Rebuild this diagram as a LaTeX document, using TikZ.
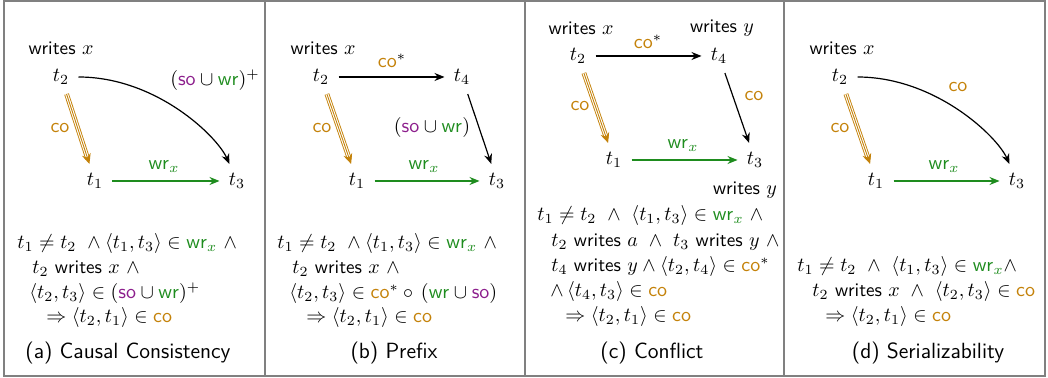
\documentclass[tikz,border=0pt]{standalone}
\usepackage{amsmath,amssymb}
\usetikzlibrary{arrows.meta}
\definecolor{cocol}{RGB}{196,130,10}
\definecolor{grn}{RGB}{30,140,30}
\definecolor{prp}{RGB}{140,30,140}
\definecolor{framecol}{RGB}{128,128,128}
\newcommand{\CO}{\textcolor{cocol}{\mathsf{co}}}
\newcommand{\WR}{\textcolor{grn}{\mathsf{wr}}}
\newcommand{\SO}{\textcolor{prp}{\mathsf{so}}}
\newcommand{\WRX}{\textcolor{grn}{\mathsf{wr}_x}}
\newcommand{\wrt}{\textsf{writes}}
\tikzset{
  every node/.style={font=\fontsize{9.6}{11}\selectfont},
  tn/.style={inner sep=4.5pt},
  lbl/.style={inner sep=0pt},
  fl/.style={inner sep=0pt, anchor=base west},
  captxt/.style={inner sep=0pt, font=\fontsize{11}{13}\selectfont\sffamily},
  tipst/.style={-{Stealth[length=5pt,width=4pt]}},
  blk/.style={line width=0.6pt, tipst},
  wrarrow/.style={grn, line width=0.6pt, tipst},
  cotrip/.style={cocol, double=white, double distance=1.5pt, line width=0.45pt, shorten >=2.5pt},
  cocenter/.style={cocol, line width=0.45pt, -{Stealth[length=5pt,width=4.5pt]}},
  framel/.style={framecol, line width=1pt}
}
\begin{document}
\begin{tikzpicture}[x=0.5pt,y=-0.5pt]
\useasboundingbox (0,0) rectangle (1048,378);
% frame
\draw[framel] (4,1) rectangle (1045,376);
\draw[framel] (265,1) -- (265,376);
\draw[framel] (525,1) -- (525,376);
\draw[framel] (784,1) -- (784,376);

% ---------- panel a ----------
\node[lbl] (aw) at (61,48) {\wrt{} $x$};
\node[tn] (a2) at (61,77) {$t_2$};
\node[tn] (a1) at (95,181) {$t_1$};
\node[tn] (a3) at (237,181) {$t_3$};
\draw[cotrip] (a2) -- (a1);
\draw[cocenter] (a2) -- (a1);
\node[lbl] (aco) at (60,128) {$\CO$};
\draw[wrarrow] (a1) -- (a3);
\node[lbl] (awr) at (164,167) {$\WRX$};
\draw[blk] (a2) .. controls +(95,0) and +(-20,-45) .. (a3);
\node[lbl] (asw) at (215,80) {$(\SO\cup\WR)^{+}$};
\node[fl] (af1) at (17,249) {$t_1\neq t_2\ \wedge \langle t_1,t_3\rangle\in\WRX\ \wedge$};
\node[fl] (af2) at (32,274) {$t_2$ \wrt{} $x\ \wedge$};
\node[fl] (af3) at (29,299) {$\langle t_2,t_3\rangle\in(\SO\cup\WR)^{+}$};
\node[fl] (af4) at (46,323) {$\Rightarrow\langle t_2,t_1\rangle\in\CO$};
\node[captxt] (acap) at (128,353) {(a) Causal Consistency};

% ---------- panel b ----------
\node[lbl] (bw) at (323,48) {\wrt{} $x$};
\node[tn] (b2) at (321,77) {$t_2$};
\node[tn] (b4) at (462,77) {$t_4$};
\node[tn] (b1) at (357,181) {$t_1$};
\node[tn] (b3) at (497,181) {$t_3$};
\draw[blk] (b2) -- (b4);
\node[lbl] (bcs) at (392,61) {$\CO^{*}$};
\draw[cotrip] (b2) -- (b1);
\draw[cocenter] (b2) -- (b1);
\node[lbl] (bco) at (322,128) {$\CO$};
\draw[wrarrow] (b1) -- (b3);
\node[lbl] (bwr) at (424,167) {$\WRX$};
\draw[blk] (b4) -- (b3);
\node[lbl] (bsw) at (432,128) {$(\SO\cup\WR)$};
\node[fl] (bf1) at (277,249) {$t_1\neq t_2\ \wedge \langle t_1,t_3\rangle\in\WRX\ \wedge$};
\node[fl] (bf2) at (292,274) {$t_2$ \wrt{} $x\ \wedge$};
\node[fl] (bf3) at (289,299) {$\langle t_2,t_3\rangle\in\CO^{*}\circ\,(\WR\cup\SO)$};
\node[fl] (bf4) at (306,323) {$\Rightarrow\langle t_2,t_1\rangle\in\CO$};
\node[captxt] (bcap) at (394,353) {(b) Prefix};

% ---------- panel c ----------
\node[lbl] (cwx) at (581,28) {\wrt{} $x$};
\node[lbl] (cwy) at (722,28) {\wrt{} $y$};
\node[tn] (c2) at (578,56) {$t_2$};
\node[tn] (c4) at (719,56) {$t_4$};
\node[tn] (c1) at (614,160) {$t_1$};
\node[tn] (c3) at (755,160) {$t_3$};
\draw[blk] (c2) -- (c4);
\node[lbl] (ccs) at (648,42) {$\CO^{*}$};
\draw[cotrip] (c2) -- (c1);
\draw[cocenter] (c2) -- (c1);
\node[lbl] (cco) at (580,106) {$\CO$};
\draw[wrarrow] (c1) -- (c3);
\node[lbl] (cwr) at (683,146) {$\WRX$};
\draw[blk] (c4) -- (c3);
\node[lbl] (cco2) at (754,96) {$\CO$};
\node[lbl] (cwy2) at (745,190) {\wrt{} $y$};
\node[fl] (cf1) at (537,221) {$t_1\neq t_2\ \wedge\ \langle t_1,t_3\rangle\in\WRX\ \wedge$};
\node[fl] (cf2) at (551,247) {$t_2$ \wrt{} $a\ \wedge\ t_3$ \wrt{} $y\ \wedge$};
\node[fl] (cf3) at (551,272) {$t_4$ \wrt{} $y\wedge\langle t_2,t_4\rangle\in\CO^{*}$};
\node[fl] (cf4) at (550,297) {$\wedge\,\langle t_4,t_3\rangle\in\CO$};
\node[fl] (cf5) at (565,322) {$\Rightarrow\langle t_2,t_1\rangle\in\CO$};
\node[captxt] (ccap) at (652,353) {(c) Conflict};

% ---------- panel d ----------
\node[lbl] (dw) at (842,48) {\wrt{} $x$};
\node[tn] (d2) at (840,77) {$t_2$};
\node[tn] (d1) at (876,181) {$t_1$};
\node[tn] (d3) at (1017,181) {$t_3$};
\draw[cotrip] (d2) -- (d1);
\draw[cocenter] (d2) -- (d1);
\node[lbl] (dco) at (840,128) {$\CO$};
\draw[wrarrow] (d1) -- (d3);
\node[lbl] (dwr) at (944,167) {$\WRX$};
\draw[blk] (d2) .. controls +(95,0) and +(-20,-45) .. (d3);
\node[lbl] (dco2) at (958,87) {$\CO$};
\node[fl] (df1) at (797,272) {$t_1\neq t_2\ \wedge\ \langle t_1,t_3\rangle\in\WRX{\wedge}$};
\node[fl] (df2) at (812,297) {$t_2$ \wrt{} $x\ \wedge\ \langle t_2,t_3\rangle\in\CO$};
\node[fl] (df3) at (825,322) {$\Rightarrow\langle t_2,t_1\rangle\in\CO$};
\node[captxt] (dcap) at (928,353) {(d) Serializability};
\end{tikzpicture}
\end{document}
